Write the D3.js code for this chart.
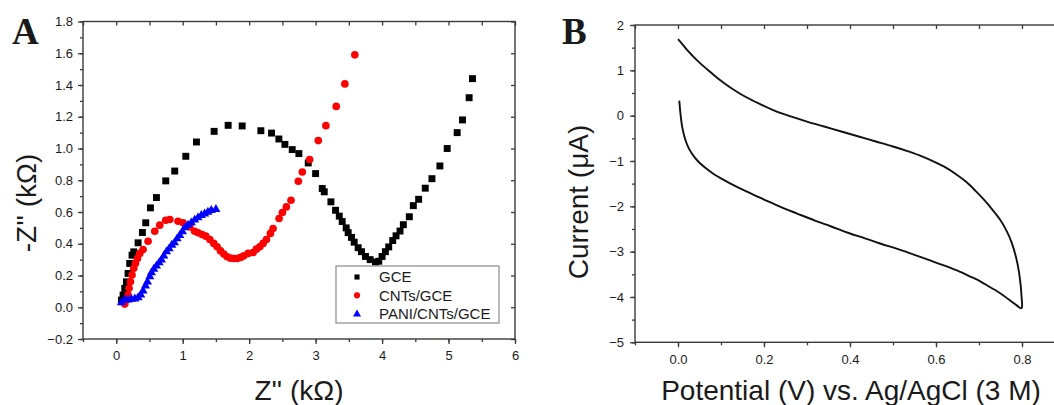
<!DOCTYPE html>
<html>
<head>
<meta charset="utf-8">
<script src="https://cdn.jsdelivr.net/npm/d3@7/dist/d3.min.js"></script>
<style>
  html, body { margin: 0; padding: 0; background: #fff; }
  svg { display: block; }
  text { font-family: "Liberation Sans", Arial, sans-serif; fill: #1a1a1a; }
</style>
</head>
<body>
<svg id="fig" width="1054" height="405"></svg>
<script>
// ---- Panel A: Nyquist plots (Z' vs -Z'', kOhm) ----
const gceRe = [0.078,0.103,0.128,0.153,0.178,0.203,0.238,0.264,0.329,0.394,0.444,0.515,0.605,0.745,0.88,1.047,1.207,1.473,1.684,1.895,2.176,2.337,2.447,2.538,2.648,2.748,2.889,3.0,3.1,3.13,3.23,3.30,3.356,3.40,3.46,3.49,3.54,3.58,3.64,3.69,3.75,3.82,3.90,3.95,4.00,4.05,4.10,4.16,4.21,4.27,4.32,4.41,4.47,4.55,4.65,4.75,4.87,4.98,5.13,5.21,5.31,5.36];
const gceIm = [0.045,0.077,0.119,0.16,0.213,0.276,0.328,0.349,0.406,0.471,0.532,0.626,0.691,0.796,0.858,0.951,1.041,1.108,1.146,1.142,1.112,1.097,1.06,1.026,0.993,0.968,0.909,0.842,0.748,0.727,0.664,0.611,0.574,0.54,0.50,0.47,0.44,0.41,0.375,0.35,0.32,0.30,0.285,0.29,0.32,0.35,0.38,0.42,0.45,0.48,0.52,0.57,0.64,0.68,0.75,0.81,0.89,1.00,1.10,1.18,1.32,1.44];

const cntRe = [0.128,0.153,0.178,0.193,0.214,0.238,0.264,0.289,0.319,0.354,0.404,0.479,0.58,0.655,0.745,0.806,0.93,1.006,1.107,1.18,1.232,1.292,1.348,1.408,1.468,1.518,1.569,1.619,1.669,1.72,1.77,1.82,1.87,1.92,1.985,2.06,2.11,2.16,2.21,2.26,2.32,2.36,2.45,2.50,2.56,2.63,2.74,2.80,2.91,3.04,3.155,3.31,3.44,3.59];
const cntIm = [0.020,0.045,0.077,0.119,0.160,0.203,0.245,0.276,0.307,0.339,0.364,0.416,0.479,0.517,0.548,0.553,0.542,0.532,0.506,0.479,0.469,0.458,0.448,0.427,0.402,0.381,0.355,0.335,0.318,0.309,0.307,0.307,0.314,0.324,0.339,0.345,0.366,0.381,0.402,0.427,0.465,0.496,0.559,0.597,0.632,0.674,0.794,0.852,0.93,1.05,1.144,1.265,1.407,1.59];

const paniRe = [0.078,0.128,0.178,0.229,0.279,0.329,0.369,0.404,0.44,0.47,0.505,0.53,0.565,0.605,0.645,0.68,0.715,0.756,0.796,0.836,0.876,0.916,0.956,0.997,1.03,1.08,1.13,1.18,1.23,1.28,1.33,1.38,1.43,1.50];
const paniIm = [0.035,0.052,0.052,0.056,0.058,0.066,0.083,0.108,0.14,0.165,0.198,0.223,0.245,0.265,0.286,0.303,0.328,0.355,0.374,0.397,0.412,0.437,0.458,0.481,0.506,0.523,0.538,0.555,0.569,0.584,0.594,0.605,0.616,0.622];

const seriesNames = ["GCE", "CNTs/GCE", "PANI/CNTs/GCE"];
const xTicksA = [0, 1, 2, 3, 4, 5, 6];
const yTicksA = [-0.2, 0.0, 0.2, 0.4, 0.6, 0.8, 1.0, 1.2, 1.4, 1.6, 1.8];

// ---- Panel B: cyclic voltammogram (forward scan, then return scan) ----
const cvPotential = [0.003,0.006,0.010,0.016,0.024,0.034,0.046,0.062,0.082,0.105,0.137,0.17,0.20,0.24,0.277,0.32,0.355,0.40,0.433,0.47,0.51,0.55,0.588,0.62,0.65,0.68,0.704,0.725,0.743,0.76,0.774,0.787,0.798,0.800,0.799,0.797,0.793,0.786,0.776,0.763,0.748,0.730,0.712,0.692,0.670,0.645,0.618,0.590,0.56,0.53,0.50,0.46,0.42,0.38,0.34,0.30,0.26,0.22,0.19,0.16,0.135,0.11,0.088,0.068,0.050,0.034,0.020,0.009,0.0];
const cvCurrent = [0.33,0.02,-0.26,-0.50,-0.70,-0.86,-1.00,-1.14,-1.28,-1.41,-1.57,-1.72,-1.85,-2.02,-2.16,-2.32,-2.44,-2.60,-2.70,-2.82,-2.94,-3.07,-3.20,-3.31,-3.42,-3.55,-3.66,-3.78,-3.88,-3.99,-4.09,-4.18,-4.25,-4.22,-4.00,-3.75,-3.45,-3.12,-2.80,-2.52,-2.28,-2.06,-1.86,-1.66,-1.46,-1.28,-1.12,-0.99,-0.87,-0.77,-0.68,-0.57,-0.46,-0.35,-0.24,-0.13,-0.01,0.13,0.26,0.40,0.54,0.70,0.86,1.02,1.17,1.32,1.46,1.59,1.69];
const xTicksB = [0.0, 0.2, 0.4, 0.6, 0.8];
const yTicksB = [-5, -4, -3, -2, -1, 0, 1, 2];

const svg = d3.select("#fig");
const frameColor = "#3a3a3a";

// framed plot: out-ticks on bottom/left, in-ticks on top/right
function framedAxes(g, x, y, opt) {
  const [x0, x1] = x.range();
  const [y0, y1] = y.range(); // y0 bottom, y1 top
  const styleAxis = sel => {
    sel.select(".domain").remove();
    sel.selectAll(".tick line").attr("stroke", frameColor).attr("stroke-width", 1.3);
    sel.selectAll(".tick text").attr("font-size", 13).attr("fill", "#1a1a1a")
      .attr("font-family", "Liberation Sans, Arial, sans-serif");
  };
  g.append("g").attr("transform", `translate(0,${y0})`)
    .call(d3.axisBottom(x).tickValues(opt.xMinor).tickSize(3).tickFormat(""))
    .call(styleAxis);
  g.append("g").attr("transform", `translate(0,${y0})`)
    .call(d3.axisBottom(x).tickValues(opt.xMajor).tickSize(5).tickPadding(opt.xPad).tickFormat(opt.xFmt))
    .call(styleAxis);
  g.append("g").attr("transform", `translate(${x0},0)`)
    .call(d3.axisLeft(y).tickValues(opt.yMinor).tickSize(3).tickFormat(""))
    .call(styleAxis);
  g.append("g").attr("transform", `translate(${x0},0)`)
    .call(d3.axisLeft(y).tickValues(opt.yMajor).tickSize(5).tickPadding(opt.yPad).tickFormat(opt.yFmt))
    .call(styleAxis);
  g.append("g").attr("transform", `translate(0,${y1})`)
    .call(d3.axisBottom(x).tickValues(opt.xTop).tickSize(4).tickFormat(""))
    .call(styleAxis);
  g.append("g").attr("transform", `translate(${x1},0)`)
    .call(d3.axisLeft(y).tickValues(opt.yRight).tickSize(4).tickFormat(""))
    .call(styleAxis);
  g.append("rect").attr("x", x0).attr("y", y1)
    .attr("width", x1 - x0).attr("height", y0 - y1)
    .attr("fill", "none").attr("stroke", frameColor).attr("stroke-width", 1.4);
}

// ================= Panel A =================
const xA = d3.scaleLinear().domain([-0.5, 6]).range([83, 515]);
const yA = d3.scaleLinear().domain([-0.2, 1.8]).range([339, 21.5]);
const gA = svg.append("g");

framedAxes(gA, xA, yA, {
  xMajor: xTicksA, xMinor: d3.range(-0.5, 6.01, 0.5), xTop: d3.range(-0.5, 6.01, 0.5),
  yMajor: yTicksA, yMinor: d3.range(-0.2, 1.81, 0.1), yRight: yTicksA,
  xFmt: d3.format("d"), yFmt: d3.format(".1f"), xPad: 7, yPad: 5
});

const toPts = (xs, ys) => xs.map((v, i) => [v, ys[i]]);
const gceData = toPts(gceRe, gceIm);
const cntData = toPts(cntRe, cntIm);
const paniData = toPts(paniRe, paniIm);

const sqSym = d3.symbol().type(d3.symbolSquare);
const ciSym = d3.symbol().type(d3.symbolCircle);
const trSym = d3.symbol().type(d3.symbolTriangle);

gA.append("g").selectAll("path").data(gceData).join("path")
  .attr("transform", d => `translate(${xA(d[0])},${yA(d[1])})`)
  .attr("d", sqSym.size(48)()).attr("fill", "#000");
gA.append("g").selectAll("path").data(cntData).join("path")
  .attr("transform", d => `translate(${xA(d[0])},${yA(d[1])})`)
  .attr("d", ciSym.size(46)()).attr("fill", "#ff0000");
gA.append("g").selectAll("path").data(paniData).join("path")
  .attr("transform", d => `translate(${xA(d[0])},${yA(d[1]) + 0.8})`)
  .attr("d", trSym.size(36)()).attr("fill", "#0000ff");

// legend
const leg = gA.append("g");
leg.append("rect").attr("x", 336).attr("y", 266).attr("width", 163).attr("height", 57)
  .attr("fill", "#fff").attr("stroke", "#8a8a8a").attr("stroke-width", 1.2);
const legSyms = [sqSym.size(26)(), ciSym.size(30)(), trSym.size(28)()];
const legCols = ["#000", "#ff0000", "#0000ff"];
seriesNames.forEach((name, i) => {
  const cy = 277 + i * 18.3;
  leg.append("path").attr("d", legSyms[i]).attr("fill", legCols[i])
    .attr("transform", `translate(357,${cy + (i === 2 ? 0.6 : 0)})`);
  leg.append("text").attr("x", 379).attr("y", cy).attr("dy", "0.36em")
    .attr("font-size", 15).text(name);
});

// titles
gA.append("text").attr("x", (xA.range()[0] + xA.range()[1]) / 2).attr("y", 400)
  .attr("text-anchor", "middle").attr("font-size", 28).text("Z'' (k\u03A9)");
gA.append("text").attr("transform", "translate(36,203) rotate(-90)")
  .attr("text-anchor", "middle").attr("font-size", 28).text("-Z'' (k\u03A9)");
gA.append("text").attr("x", 12).attr("y", 43.5)
  .attr("font-weight", "bold").attr("font-size", 37).style("font-family", "Liberation Serif, serif")
  .text("A");

// ================= Panel B =================
const xB = d3.scaleLinear().domain([-0.1, 0.9]).range([635, 1065]);
const yB = d3.scaleLinear().domain([-5, 2]).range([342.3, 25]);
const gB = svg.append("g");

framedAxes(gB, xB, yB, {
  xMajor: xTicksB, xMinor: d3.range(-0.1, 0.91, 0.1), xTop: d3.range(-0.1, 0.91, 0.1),
  yMajor: yTicksB, yMinor: d3.range(-5, 2.01, 0.5), yRight: yTicksB,
  xFmt: d3.format(".1f"), yFmt: d3.format("d"), xPad: 7, yPad: 6
});

const cvData = toPts(cvPotential, cvCurrent);
gB.append("path").datum(cvData)
  .attr("d", d3.line().x(d => xB(d[0])).y(d => yB(d[1])).curve(d3.curveCatmullRom.alpha(0.5)))
  .attr("fill", "none").attr("stroke", "#111").attr("stroke-width", 1.9)
  .attr("stroke-linejoin", "round");

gB.append("text").attr("x", 851).attr("y", 400)
  .attr("text-anchor", "middle").attr("font-size", 28).text("Potential (V) vs. Ag/AgCl (3 M)");
gB.append("text").attr("transform", "translate(588,202) rotate(-90)")
  .attr("text-anchor", "middle").attr("font-size", 28).text("Current (\u03BCA)");
gB.append("text").attr("x", 562).attr("y", 44)
  .attr("font-weight", "bold").attr("font-size", 37).style("font-family", "Liberation Serif, serif")
  .text("B");
</script>
</body>
</html>
